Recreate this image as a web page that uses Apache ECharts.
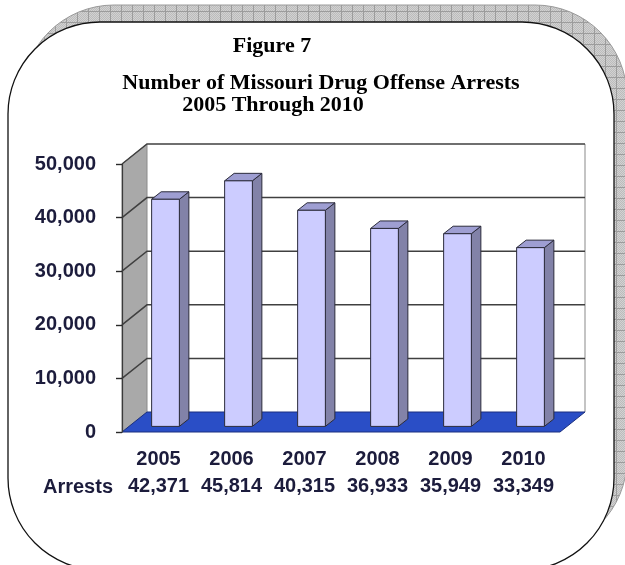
<!DOCTYPE html>
<html>
<head>
<meta charset="utf-8">
<script src="https://cdn.jsdelivr.net/npm/echarts@6/dist/echarts.min.js"></script>
<style>
html,body{margin:0;padding:0;background:#fff;}
#main{width:625px;height:565px;}
</style>
</head>
<body>
<div id="main"></div>
<script>
const categories = ['2005', '2006', '2007', '2008', '2009', '2010'];
const arrests = [42371, 45814, 40315, 36933, 35949, 33349];
const yTicks = [0, 10000, 20000, 30000, 40000, 50000];
const rowLabel = 'Arrests';
const titleLines = ['Figure 7', 'Number of Missouri Drug Offense Arrests', '2005 Through 2010'];

const fmt = v => Number(v).toLocaleString('en-US');
const DX = 25, DY = -20;           // depth of the 3D box
const TXT = '#1c1c3c';
const SANS = '"Liberation Sans", Arial, sans-serif';
const SERIF = 'bold 22px "Liberation Serif", "Times New Roman", serif';

// grid-pattern for the frame shadow
const pat = document.createElement('canvas');
pat.width = 11; pat.height = 11;
(function () {
  const c = pat.getContext('2d');
  c.fillStyle = '#d2d2d2'; c.fillRect(0, 0, 11, 11);
  c.fillStyle = '#bcbcbc';
  for (let x = 0; x < 11; x++) for (let y = 0; y < 11; y++) if ((x + y) % 2 === 0) c.fillRect(x, y, 1, 1);
  c.fillStyle = '#9c9c9c'; c.fillRect(0, 0, 11, 1); c.fillRect(0, 0, 1, 11);
})();

const chart = echarts.init(document.getElementById('main'), null, {renderer: 'canvas'});

function frameItem(params, api) {
  const bw = api.size([1, 0])[0];
  const first = api.coord([0, yTicks[0]]);
  const last = api.coord([categories.length - 1, yTicks[0]]);
  const L = first[0] - bw / 2, R = last[0] + bw / 2, B = first[1];
  const T = api.coord([0, yTicks[yTicks.length - 1]])[1];
  const children = [];
  children.push({type: 'polygon', shape: {points: [[L + DX, T + DY], [R + DX, T + DY], [R + DX, B + DY], [L + DX, B + DY]]},
    style: {fill: '#ffffff'}});
  children.push({type: 'line', shape: {x1: R + DX, y1: T + DY, x2: R + DX, y2: B + DY}, style: {stroke: '#c4c4c4', lineWidth: 2}});
  children.push({type: 'polygon', shape: {points: [[L, B], [L, T], [L + DX, T + DY], [L + DX, B + DY]]},
    style: {fill: '#a9a9a9', stroke: '#8a8a8a', lineWidth: 1}});
  yTicks.forEach(v => {
    if (v === yTicks[0]) return;
    const y = api.coord([0, v])[1];
    children.push({type: 'polyline', shape: {points: [[L, y], [L + DX, y + DY], [R + DX, y + DY]]},
      style: {stroke: '#404040', lineWidth: 1.5, fill: null}});
  });
  children.push({type: 'polygon', shape: {points: [[L, B], [R, B], [R + DX, B + DY], [L + DX, B + DY]]},
    style: {fill: '#2a4ec6', stroke: '#1a2f80', lineWidth: 1}});
  return {type: 'group', children};
}

function barItem(params, api) {
  const bw = api.size([1, 0])[0];
  const i = api.value(0), v = api.value(1);
  const c0 = api.coord([i, 0]);
  const c1 = api.coord([i, v]);
  const d1 = 0.28;
  const w = bw * 0.38;
  const cx = c0[0] + DX * d1;
  const left = cx - w / 2, right = cx + w / 2;
  const yb = c0[1] + DY * d1, yt = c1[1] + DY * d1;
  const sdx = 9.5, sdy = -7.5;
  const stroke = '#2b2b3b';
  return {type: 'group', children: [
    {type: 'polygon', shape: {points: [[right, yb], [right, yt], [right + sdx, yt + sdy], [right + sdx, yb + sdy]]},
      style: {fill: '#8282a8', stroke, lineWidth: 1}},
    {type: 'polygon', shape: {points: [[left, yt], [right, yt], [right + sdx, yt + sdy], [left + sdx, yt + sdy]]},
      style: {fill: '#9e9ed2', stroke, lineWidth: 1}},
    {type: 'rect', shape: {x: left, y: yt, width: w, height: yb - yt},
      style: {fill: '#ccccff', stroke, lineWidth: 1}}
  ]};
}

const option = {
  animation: false,
  backgroundColor: '#ffffff',
  grid: {left: 122, top: 164, width: 438, height: 268, containLabel: false},
  xAxis: {
    type: 'category', data: categories,
    axisLine: {show: false}, axisTick: {show: false},
    axisLabel: {
      margin: 14, interval: 0,
      formatter: (val, idx) => '{y|' + val + '}\n{v|' + fmt(arrests[idx]) + '}',
      rich: {
        y: {fontSize: 20, fontWeight: 'bold', fontFamily: SANS, color: TXT, lineHeight: 27},
        v: {fontSize: 20, fontWeight: 'bold', fontFamily: SANS, color: TXT, lineHeight: 27}
      }
    }
  },
  yAxis: {
    type: 'value', min: yTicks[0], max: yTicks[yTicks.length - 1], interval: yTicks[1] - yTicks[0],
    z: 10,
    axisLine: {show: true, lineStyle: {color: '#3a3a3a', width: 1.2}},
    axisTick: {show: true, length: 6, lineStyle: {color: '#2a2a2a', width: 1.4}},
    splitLine: {show: false},
    axisLabel: {margin: 26, formatter: v => fmt(v), fontSize: 20, fontWeight: 'bold', fontFamily: SANS, color: TXT}
  },
  graphic: [
    {type: 'rect', z: -20, shape: {x: 22, y: 5, width: 605, height: 546, r: 92},
      style: {fill: {image: pat, repeat: 'repeat'}, stroke: '#9a9a9a', lineWidth: 1}},
    {type: 'rect', z: -19, shape: {x: 8, y: 22, width: 606, height: 548, r: 92},
      style: {fill: '#ffffff', stroke: '#111', lineWidth: 1.3}},
    {type: 'text', z: 100, x: 272, y: 46, style: {text: titleLines[0], font: SERIF, fill: '#000', align: 'center', verticalAlign: 'middle'}},
    {type: 'text', z: 100, x: 321, y: 83, style: {text: titleLines[1], font: SERIF, fill: '#000', align: 'center', verticalAlign: 'middle'}},
    {type: 'text', z: 100, x: 273, y: 105, style: {text: titleLines[2], font: SERIF, fill: '#000', align: 'center', verticalAlign: 'middle'}},
    {type: 'text', z: 100, x: 113, y: 487, style: {text: rowLabel, font: 'bold 20px ' + SANS, fill: TXT, align: 'right', verticalAlign: 'middle'}}
  ],
  series: [
    {type: 'custom', name: 'frame', z: 1, silent: true, data: [[0, 0]], encode: {x: 0, y: 1}, renderItem: frameItem},
    {type: 'custom', name: 'Arrests', z: 3, data: arrests.map((v, i) => [i, v]), encode: {x: 0, y: 1}, renderItem: barItem}
  ]
};
chart.setOption(option);
</script>
</body>
</html>
